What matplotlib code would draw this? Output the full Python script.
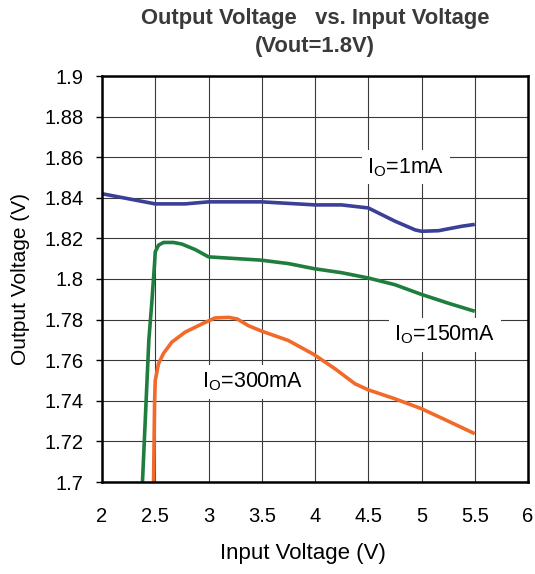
import matplotlib
matplotlib.use("Agg")
import matplotlib.pyplot as plt

plt.rcParams['font.family'] = ['Liberation Sans', 'DejaVu Sans']
plt.rcParams['mathtext.fontset'] = 'custom'
plt.rcParams['mathtext.rm'] = 'Liberation Sans'

# Io = 1mA
vin_1 = [2.0, 2.25, 2.5, 2.78, 3.0, 3.5, 4.0, 4.25, 4.5, 4.75, 4.94, 5.0, 5.16, 5.38, 5.5]
vout_1 = [1.842, 1.8395, 1.837, 1.837, 1.838, 1.838, 1.8365, 1.8365, 1.835, 1.8285,
          1.8242, 1.8235, 1.8238, 1.826, 1.8269]

# Io = 150mA
vin_150 = [2.38, 2.44, 2.47, 2.494, 2.5, 2.531, 2.578, 2.672, 2.75, 2.875, 3.0, 3.49,
           3.75, 3.99, 4.25, 4.5, 4.75, 5.0, 5.25, 5.5]
vout_150 = [1.70, 1.77, 1.79, 1.808, 1.8134, 1.8167, 1.818, 1.818, 1.8172, 1.8145,
            1.8109, 1.8093, 1.8076, 1.8051, 1.8031, 1.8005, 1.7972, 1.7924, 1.7881, 1.7841]

# Io = 300mA
vin_300 = [2.484, 2.494, 2.5, 2.53, 2.578, 2.656, 2.78, 2.94, 3.06, 3.19, 3.27, 3.375,
           3.5, 3.75, 3.99, 4.19, 4.375, 4.5, 4.75, 5.0, 5.25, 5.5]
vout_300 = [1.70, 1.74, 1.75, 1.7582, 1.7634, 1.7689, 1.7738, 1.7779, 1.7808, 1.7811,
            1.7803, 1.777, 1.7743, 1.7697, 1.7628, 1.7557, 1.7484, 1.7454, 1.741, 1.7361,
            1.73, 1.7238]

xticks = [2, 2.5, 3, 3.5, 4, 4.5, 5, 5.5, 6]
xticklabels = ['2', '2.5', '3', '3.5', '4', '4.5', '5', '5.5', '6']
yticks = [1.7, 1.72, 1.74, 1.76, 1.78, 1.8, 1.82, 1.84, 1.86, 1.88, 1.9]
yticklabels = ['1.7', '1.72', '1.74', '1.76', '1.78', '1.8', '1.82', '1.84', '1.86', '1.88', '1.9']

fig = plt.figure(figsize=(5.35, 5.74), dpi=100)
ax = fig.add_axes([102 / 535, 1 - 482 / 574, 426 / 535, 406 / 574])

ax.plot(vin_1, vout_1, color='#3a3f98', lw=2.6, solid_capstyle='butt')
ax.plot(vin_150, vout_150, color='#1f7d3d', lw=2.6, solid_capstyle='butt')
ax.plot(vin_300, vout_300, color='#f26a2a', lw=2.6, solid_capstyle='butt')

ax.set_xlim(2, 6)
ax.set_ylim(1.7, 1.9)
ax.set_xticks(xticks)
ax.set_xticklabels(xticklabels)
ax.set_yticks(yticks)
ax.set_yticklabels(yticklabels)
ax.tick_params(axis='both', labelsize=14.5, colors='black')
ax.tick_params(axis='x', length=0, pad=18)
ax.tick_params(axis='y', length=4, width=1, pad=9.5)
ax.grid(True, color='#3a3a3a', lw=0.8)
ax.set_axisbelow(True)
for s in ax.spines.values():
    s.set_linewidth(1.8)
    s.set_color('black')

box = dict(facecolor='white', edgecolor='none', pad=4)
ax.text(4.855, 1.855, r'I$_{\rm O}$=1mA', fontsize=15.5, ha='center', va='center', bbox=box, zorder=3)
ax.text(5.22, 1.7724, r'I$_{\rm O}$=150mA', fontsize=15.5, ha='center', va='center', bbox=box, zorder=3)
ax.text(3.41, 1.7493, r'I$_{\rm O}$=300mA', fontsize=15.5, ha='center', va='center', bbox=box, zorder=3)

fig.text(303 / 535, 1 - 553 / 574, 'Input Voltage (V)', fontsize=16, ha='center', va='center')
ax.set_ylabel('Output Voltage (V)', fontsize=15, labelpad=10)
ax.set_title('Output Voltage   vs. Input Voltage\n(Vout=1.8V)', fontsize=15.8,
             fontweight='bold', color='#3a3a3a', pad=17, linespacing=1.45)

fig.savefig('out.png', dpi=100)
